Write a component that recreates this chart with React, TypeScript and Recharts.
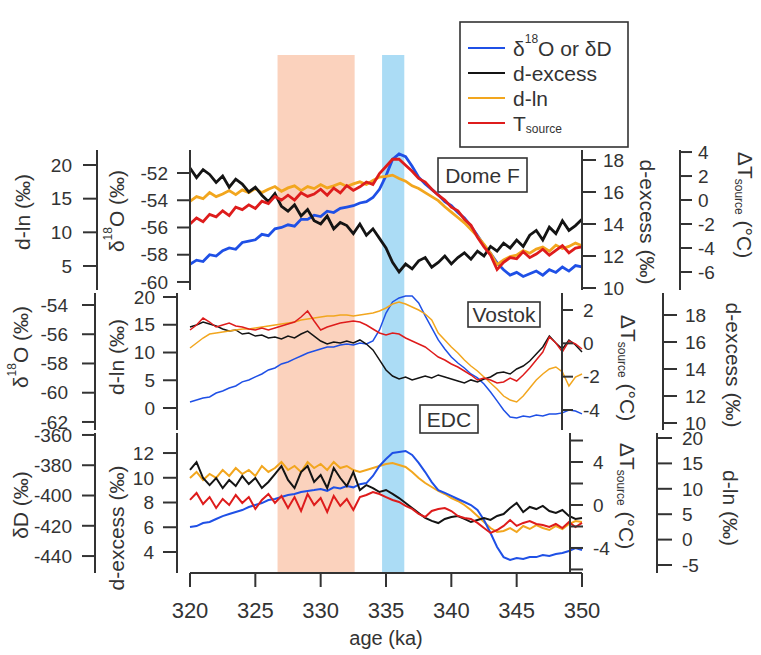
import React from "react";
import {
  ComposedChart,
  Line,
  XAxis,
  YAxis,
  ReferenceArea,
  Legend,
  Customized,
} from "recharts";

const W = 761;
const H = 655;
const FONT = '"Liberation Sans", Arial, Helvetica, sans-serif';
const INK = "#333333";

const C_ISO = "#1f50e6";
const C_DXS = "#141414";
const C_DLN = "#f2a61e";
const C_TSRC = "#de1c1c";

// age (ka), shared by all three cores
const AGE = [
  320, 320.5, 321, 321.5, 322, 322.5, 323, 323.5, 324, 324.5,
  325, 325.5, 326, 326.5, 327, 327.5, 328, 328.5, 329, 329.5,
  330, 330.5, 331, 331.5, 332, 332.5, 333, 333.5, 334, 334.5,
  335, 335.5, 336, 336.5, 337, 337.5, 338, 338.5, 339, 339.5,
  340, 340.5, 341, 341.5, 342, 342.5, 343, 343.5, 344, 344.5,
  345, 345.5, 346, 346.5, 347, 347.5, 348, 348.5, 349, 349.5, 350,
];
const AGE_TICKS = [320, 325, 330, 335, 340, 345, 350];

// shaded intervals (ka)
const PINK_BAND = [326.7, 332.6];
const BLUE_BAND = [334.7, 336.4];

// Dome F
const DF_D18O = [
  -58.7, -58.4, -58.5, -58.0, -58.1, -57.7, -57.5, -57.6, -57.1, -57.0,
  -56.9, -56.5, -56.6, -56.1, -56.0, -55.8, -55.9, -55.4, -55.4, -55.1,
  -55.2, -54.8, -54.9, -54.6, -54.5, -54.4, -54.2, -54.1, -53.8, -53.2,
  -52.2, -51.0, -50.6, -50.8, -51.5, -52.3, -52.8, -53.2, -53.6, -54.1,
  -54.4, -54.9, -55.3, -55.9, -56.6, -57.3, -57.9, -58.6, -59.1, -59.5,
  -59.3, -59.6, -59.4, -59.2, -59.5, -59.1, -59.3, -58.9, -59.2, -58.8, -58.9,
];
const DF_DXS = [
  17.5, 16.9, 17.4, 17.1, 16.6, 17.0, 16.3, 16.8, 16.5, 16.0,
  16.3, 15.8, 15.4, 15.9, 15.1, 14.8, 15.2, 14.5, 14.9, 14.2,
  14.0, 14.5, 13.7, 14.1, 13.9, 13.4, 14.0, 13.3, 13.7, 13.1,
  12.5, 11.6, 11.0, 11.5, 11.2, 11.7, 11.9, 11.3, 11.6, 12.0,
  11.5, 11.9, 12.2, 11.8, 12.3, 12.0, 12.6, 12.3, 12.8, 12.5,
  13.0, 12.6, 13.3, 13.6, 13.0, 13.8, 13.4, 14.2, 13.6, 13.9, 14.3,
];
const DF_DLN = [
  14.6, 15.3, 15.0, 15.9, 15.3, 15.7, 16.2, 15.6, 16.3, 15.9,
  16.5, 15.9, 16.4, 16.8, 16.1, 16.6, 16.9, 16.2, 16.8, 16.5,
  17.1, 16.6, 16.9, 17.3, 16.8, 17.2, 17.5, 17.1, 17.7, 18.2,
  18.3, 18.5, 18.0, 17.6, 16.9, 16.5, 15.9, 15.3, 14.7, 13.8,
  13.0, 12.2, 11.4, 10.4, 9.4, 8.2, 6.9, 5.2, 5.9, 6.4,
  6.6, 7.3, 6.9, 7.5, 7.8, 7.2, 8.1, 7.6, 7.9, 8.4, 8.0,
];
const DF_TSRC = [
  -2.0, -1.5, -1.8, -1.2, -1.4, -0.9, -1.3, -0.6, -0.8, -0.4,
  -0.7, -0.1, -0.3, 0.3, 0.0, 0.4, 0.0, 0.6, 0.3, 0.5,
  0.9, 0.4, 1.0, 0.6, 1.2, 0.8, 1.1, 1.5, 1.3, 2.2,
  2.8, 3.4, 3.4, 2.9, 2.4, 1.8, 1.5, 0.9, 0.4, 0.0,
  -0.6, -0.9, -1.6, -2.1, -3.1, -3.9, -4.6, -5.8, -5.2, -4.8,
  -4.9, -4.3, -4.8, -4.5, -4.1, -4.6, -4.2, -3.8, -4.4, -4.0, -3.9,
];

// Vostok
const VK_D18O = [
  -60.63, -60.5, -60.36, -60.29, -60.02, -59.88, -59.68, -59.54, -59.26, -59.13,
  -58.92, -58.72, -58.44, -58.31, -58.03, -57.9, -57.69, -57.49, -57.28, -57.15,
  -57.01, -56.87, -56.87, -56.74, -56.67, -56.74, -56.6, -56.67, -56.46, -55.71,
  -54.55, -53.79, -53.52, -53.38, -53.38, -53.86, -54.75, -55.57, -56.39, -57.01,
  -57.56, -57.97, -58.31, -58.72, -58.99, -59.4, -59.95, -60.56, -61.18, -61.66,
  -61.73, -61.59, -61.66, -61.52, -61.59, -61.45, -61.45, -61.38, -61.18, -61.25, -61.45,
];
const VK_DXS = [
  17.11, 17.26, 17.48, 17.33, 17.19, 16.96, 16.81, 16.89, 16.59, 16.67,
  16.44, 16.52, 16.3, 16.37, 16.22, 16.44, 16.3, 16.59, 16.81, 16.44,
  16.07, 15.85, 16.0, 15.93, 16.07, 15.93, 16.15, 15.85, 15.41, 14.67,
  13.93, 13.48, 13.26, 13.41, 13.19, 13.33, 13.48, 13.33, 13.56, 13.41,
  13.26, 13.11, 12.96, 13.19, 13.04, 13.26, 13.41, 13.7, 13.78, 13.63,
  14.0, 14.22, 14.59, 15.11, 15.63, 16.44, 15.93, 15.48, 16.15, 15.78, 15.26,
];
const VK_DLN = [
  10.81, 11.71, 12.61, 13.33, 13.51, 13.69, 13.87, 14.05, 14.23, 14.23,
  14.41, 14.59, 14.77, 14.95, 15.14, 15.32, 15.5, 15.86, 16.04, 16.22,
  16.4, 16.58, 16.58, 16.76, 16.76, 16.58, 16.76, 16.94, 17.12, 17.48,
  18.02, 18.74, 19.1, 18.74, 18.2, 17.66, 16.94, 15.86, 13.51, 12.25,
  10.99, 9.91, 8.65, 7.57, 6.67, 5.59, 4.5, 3.42, 2.16, 1.44,
  1.08, 2.16, 3.6, 5.05, 6.13, 7.03, 7.39, 6.49, 3.96, 5.59, 6.13,
];
const VK_TSRC = [
  0.8, 1.1, 1.52, 1.28, 0.98, 1.1, 1.22, 1.04, 0.98, 0.86,
  0.8, 0.92, 0.8, 0.92, 1.04, 1.16, 1.28, 1.58, 1.94, 1.34,
  0.8, 0.98, 1.1, 1.22, 1.28, 1.34, 1.28, 1.1, 0.86, 0.62,
  0.5, 0.62, 0.56, 0.32, 0.14, -0.04, -0.22, -0.52, -0.82, -1.0,
  -1.24, -1.42, -1.66, -1.9, -2.2, -2.08, -2.2, -2.38, -2.32, -2.08,
  -2.26, -1.9, -1.48, -1.0, -0.52, 0.38, 0.02, -0.52, 0.14, -0.04, -0.34,
];

// EDC
const EDC_DD = [
  -420.8, -420.2, -418.2, -417.5, -415.5, -413.6, -412.2, -410.9, -409.6, -407.6,
  -406.3, -405.0, -403.0, -402.3, -401.0, -399.7, -399.0, -397.7, -397.0, -396.4,
  -395.7, -396.9, -394.6, -395.3, -393.8, -394.6, -392.5, -391.8, -387.1, -380.5,
  -375.9, -371.9, -371.2, -370.6, -373.2, -378.5, -384.5, -391.1, -396.4, -398.3,
  -400.3, -402.3, -404.3, -406.3, -409.6, -416.2, -424.8, -434.0, -440.7, -442.6,
  -441.3, -442.0, -440.7, -440.7, -439.3, -440.0, -438.7, -438.0, -436.7, -434.7, -436.0,
];
const EDC_DXS = [
  10.63, 11.27, 9.98, 9.41, 9.98, 9.17, 9.82, 9.33, 10.14, 9.49,
  9.98, 9.17, 9.66, 10.3, 10.95, 9.82, 9.17, 10.46, 10.95, 9.66,
  10.22, 9.17, 10.79, 9.98, 9.33, 10.46, 9.01, 9.41, 9.17, 8.85,
  9.01, 8.69, 8.36, 7.96, 7.56, 7.15, 6.75, 6.51, 6.34, 6.67,
  6.83, 6.91, 6.67, 6.42, 6.59, 6.75, 6.59, 6.91, 7.07, 7.56,
  7.96, 7.23, 7.64, 7.47, 7.72, 7.31, 7.15, 7.39, 6.91, 6.67, 6.75,
];
const EDC_DLN = [
  12.13, 13.31, 11.73, 12.91, 12.13, 13.7, 12.52, 14.09, 12.91, 13.7,
  12.52, 14.49, 13.31, 14.09, 15.28, 13.7, 14.49, 13.31, 15.28, 14.09,
  14.88, 13.7, 15.28, 14.09, 14.49, 13.7, 13.31, 13.7, 14.09, 14.49,
  14.88, 15.08, 14.69, 14.29, 13.31, 12.13, 11.14, 10.35, 9.57, 8.98,
  8.19, 7.6, 6.81, 5.83, 4.65, 3.46, 2.28, 1.5, 1.69, 2.28,
  1.5, 2.68, 2.09, 2.87, 2.28, 1.89, 2.68, 2.09, 3.07, 3.66, 3.46,
];
const EDC_TSRC = [
  0.47, 1.12, 0.09, 0.74, -0.28, 0.56, 0.0, 0.93, 0.19, 0.74,
  -0.37, 0.47, 1.02, 0.19, 0.84, -0.28, 0.74, -0.56, 1.02, 0.0,
  0.65, -0.65, 0.84, -0.09, 0.56, -0.47, 0.74, 0.93, 1.21, 1.02,
  0.74, 0.47, 0.28, -0.09, -0.37, -0.84, -1.12, -0.56, -0.37, -0.28,
  -0.56, -1.02, -1.21, -1.3, -1.67, -2.14, -2.6, -2.33, -1.95, -1.4,
  -1.95, -1.67, -1.49, -1.77, -1.86, -2.05, -1.77, -2.14, -1.58, -2.05, -1.67,
];

// tick values per axis
const DF_D18O_TICKS = [-60, -58, -56, -54, -52];
const DF_DLN_TICKS = [5, 10, 15, 20];
const DF_DXS_TICKS = [10, 12, 14, 16, 18];
const DF_TSRC_TICKS = [-6, -4, -2, 0, 2, 4];
const VK_D18O_TICKS = [-62, -60, -58, -56, -54];
const VK_DLN_TICKS = [0, 5, 10, 15, 20];
const VK_TSRC_TICKS = [-4, -2, 0, 2];
const VK_DXS_TICKS = [10, 12, 14, 16, 18];
const EDC_DD_TICKS = [-440, -420, -400, -380, -360];
const EDC_DXS_TICKS = [4, 6, 8, 10, 12];
const EDC_TSRC_TICKS = [-6, -4, -2, 0, 2, 4, 6];
const EDC_DLN_TICKS = [-5, 0, 5, 10, 15, 20];

type Row = { age: number; iso: number; dxs: number; dln: number; tsrc: number };

const toRows = (iso: number[], dxs: number[], dln: number[], tsrc: number[]): Row[] =>
  AGE.map((age, i) => ({ age, iso: iso[i], dxs: dxs[i], dln: dln[i], tsrc: tsrc[i] }));

const domeF = toRows(DF_D18O, DF_DXS, DF_DLN, DF_TSRC);
const vostok = toRows(VK_D18O, VK_DXS, VK_DLN, VK_TSRC);
const edc = toRows(EDC_DD, EDC_DXS, EDC_DLN, EDC_TSRC);
const ageRows = AGE.map((age) => ({ age }));

// axis ids: recharts stacks same-side axes by id, so L1/R1 sit next to the plot and L2/R2 outside them
const axisStyle = (tickSize: number, tickMargin: number) => ({
  type: "number" as const,
  stroke: INK,
  axisLine: { strokeWidth: 2 },
  tickLine: { strokeWidth: 2 },
  tick: { fontSize: 19, fill: INK, fontFamily: FONT },
  tickSize,
  tickMargin,
  interval: 0 as const,
});

const layer: React.CSSProperties = { position: "absolute", left: 0, top: 0 };

function VLabel({ x, y, angle, children }: { x: number; y: number; angle: number; children: React.ReactNode }) {
  return (
    <text
      x={x}
      y={y}
      transform={`rotate(${angle} ${x} ${y})`}
      textAnchor="middle"
      dominantBaseline="central"
      fontSize={21}
      fontFamily={FONT}
      fill={INK}
    >
      {children}
    </text>
  );
}

const D18O = (
  <>
    δ<tspan fontSize={12} dy={-8}>18</tspan>
    <tspan dy={8}>O (‰)</tspan>
  </>
);
const TSOURCE = (
  <>
    ΔT<tspan fontSize={12} dy={6}>source</tspan>
    <tspan dy={-6}> (°C)</tspan>
  </>
);

function Tag({ x, y, w, h, label }: { x: number; y: number; w: number; h: number; label: string }) {
  return (
    <g>
      <rect x={x} y={y} width={w} height={h} fill="none" stroke={INK} strokeWidth={1.6} />
      <text
        x={x + w / 2}
        y={y + h / 2}
        textAnchor="middle"
        dominantBaseline="central"
        fontSize={21}
        fontFamily={FONT}
        fill={INK}
      >
        {label}
      </text>
    </g>
  );
}

const LEGEND_ORDER = ["iso", "dxs", "dln", "tsrc"];

function legendText(key: string) {
  if (key === "iso")
    return (
      <>
        δ<tspan fontSize={12} dy={-9}>18</tspan>
        <tspan dy={9}>O or δD</tspan>
      </>
    );
  if (key === "dxs") return "d-excess";
  if (key === "dln") return "d-ln";
  return (
    <>
      T<tspan fontSize={12} dy={6}>source</tspan>
    </>
  );
}

function LegendBox(props: any) {
  const items = [...(props.payload ?? [])].sort(
    (a: any, b: any) => LEGEND_ORDER.indexOf(a.dataKey) - LEGEND_ORDER.indexOf(b.dataKey)
  );
  return (
    <svg width={171} height={128} style={{ display: "block" }}>
      <rect x={1} y={1} width={168} height={125} fill="#fff" stroke={INK} strokeWidth={1.6} />
      {items.map((it: any, i: number) => {
        const y = 27 + i * 25;
        return (
          <g key={it.dataKey}>
            <line x1={9} x2={46} y1={y} y2={y} stroke={it.color} strokeWidth={2} />
            <text x={54} y={y} dominantBaseline="central" fontSize={21} fontFamily={FONT} fill={INK}>
              {legendText(it.dataKey)}
            </text>
          </g>
        );
      })}
    </svg>
  );
}

const DomeFNotes = () => (
  <g>
    <VLabel x={22} y={212} angle={-90}>d-ln (‰)</VLabel>
    <VLabel x={116} y={211} angle={-90}>{D18O}</VLabel>
    <VLabel x={647} y={222} angle={90}>d-excess (‰)</VLabel>
    <VLabel x={745} y={205} angle={90}>{TSOURCE}</VLabel>
    <Tag x={438} y={158} w={89} h={34} label="Dome F" />
  </g>
);

const VostokNotes = () => (
  <g>
    <VLabel x={20} y={347} angle={-90}>{D18O}</VLabel>
    <VLabel x={116} y={357} angle={-90}>d-ln (‰)</VLabel>
    <VLabel x={628} y={368} angle={90}>{TSOURCE}</VLabel>
    <VLabel x={733} y={365} angle={90}>d-excess (‰)</VLabel>
    <Tag x={468} y={302} w={72} h={25} label="Vostok" />
  </g>
);

const EdcNotes = () => (
  <g>
    <VLabel x={20} y={505} angle={-90}>δD (‰)</VLabel>
    <VLabel x={116} y={528} angle={-90}>d-excess (‰)</VLabel>
    <VLabel x={627} y={496} angle={90}>{TSOURCE}</VLabel>
    <VLabel x={730} y={508} angle={90}>d-ln (‰)</VLabel>
    <Tag x={420} y={405} w={58} h={28} label="EDC" />
  </g>
);

// EDC source-temperature axis: ticks every 2 °C, labels every 4 °C
const everyFourth = (props: any) => {
  const { x, y, payload } = props;
  if (payload.value % 4 !== 0) return <g />;
  return (
    <text x={x} y={y} dy="0.355em" textAnchor="start" fontSize={19} fontFamily={FONT} fill={INK}>
      {payload.value}
    </text>
  );
};

export default function App() {
  return (
    <div style={{ position: "absolute", left: 0, top: 0, width: W, height: H, background: "#fff", overflow: "hidden" }}>
      {/* shared age axis and shaded intervals */}
      <div style={layer}>
        <ComposedChart width={W} height={H} data={ageRows} margin={{ top: 55, right: 179, bottom: 10, left: 190 }}>
          <XAxis
            dataKey="age"
            type="number"
            domain={[320, 350]}
            allowDataOverflow
            ticks={AGE_TICKS}
            interval={0}
            height={72}
            stroke={INK}
            axisLine={{ strokeWidth: 2 }}
            tickLine={{ strokeWidth: 2 }}
            tickSize={14}
            tickMargin={15}
            tick={{ fontSize: 22, fill: INK, fontFamily: FONT }}
            label={{ value: "age (ka)", position: "insideBottom", offset: 0, fontSize: 20, fill: INK, fontFamily: FONT }}
          />
          <YAxis hide domain={[0, 1]} allowDataOverflow />
          <ReferenceArea x1={PINK_BAND[0]} x2={PINK_BAND[1]} fill="#fbd2bd" fillOpacity={1} stroke="none" ifOverflow="visible" />
          <ReferenceArea x1={BLUE_BAND[0]} x2={BLUE_BAND[1]} fill="#abdcf5" fillOpacity={1} stroke="none" ifOverflow="visible" />
        </ComposedChart>
      </div>

      {/* Dome F */}
      <div style={layer}>
        <ComposedChart width={W} height={H} data={domeF} margin={{ top: 150, right: 1, bottom: 365, left: 0 }}>
          <XAxis dataKey="age" type="number" domain={[320, 350]} hide />
          <YAxis yAxisId="L1" orientation="left" width={93} domain={[-60.59, -50.31]} ticks={DF_D18O_TICKS} {...axisStyle(13, 9)} />
          <YAxis yAxisId="L2" orientation="left" width={97} domain={[1.43, 22.23]} ticks={DF_DLN_TICKS} {...axisStyle(14, 11)} />
          <YAxis yAxisId="R1" orientation="right" width={98} domain={[9.875, 18.625]} ticks={DF_DXS_TICKS} {...axisStyle(14, 7)} />
          <YAxis yAxisId="R2" orientation="right" width={80} domain={[-7.5, 4.17]} ticks={DF_TSRC_TICKS} {...axisStyle(12, 6)} />
          <Line yAxisId="L1" dataKey="iso" name="δ18O or δD" stroke={C_ISO} strokeWidth={2.8} dot={false} isAnimationActive={false} />
          <Line yAxisId="L2" dataKey="dln" name="d-ln" stroke={C_DLN} strokeWidth={2.8} dot={false} isAnimationActive={false} />
          <Line yAxisId="R1" dataKey="dxs" name="d-excess" stroke={C_DXS} strokeWidth={2.8} dot={false} isAnimationActive={false} />
          <Line yAxisId="R2" dataKey="tsrc" name="Tsource" stroke={C_TSRC} strokeWidth={2.8} dot={false} isAnimationActive={false} />
          <Legend
            layout="vertical"
            align="center"
            verticalAlign="middle"
            content={LegendBox}
            wrapperStyle={{ left: 459, top: 21, width: 171, height: 128 }}
          />
          <Customized component={DomeFNotes} />
        </ComposedChart>
      </div>

      {/* Vostok */}
      <div style={layer}>
        <ComposedChart width={W} height={H} data={vostok} margin={{ top: 293, right: 1, bottom: 225, left: 0 }}>
          <XAxis dataKey="age" type="number" domain={[320, 350]} hide padding={{ left: 13, right: -20 }} />
          <YAxis yAxisId="L1" orientation="left" width={82} domain={[-3.96, 20.72]} ticks={VK_DLN_TICKS} {...axisStyle(14, 8)} />
          <YAxis yAxisId="L2" orientation="left" width={95} domain={[-62.55, -53.18]} ticks={VK_D18O_TICKS} {...axisStyle(13, 14)} />
          <YAxis yAxisId="R1" orientation="right" width={101} domain={[-5.2, 3.02]} ticks={VK_TSRC_TICKS} {...axisStyle(11, 10)} />
          <YAxis yAxisId="R2" orientation="right" width={97} domain={[9.48, 19.63]} ticks={VK_DXS_TICKS} {...axisStyle(14, 8)} />
          <Line yAxisId="L2" dataKey="iso" stroke={C_ISO} strokeWidth={1.5} dot={false} isAnimationActive={false} />
          <Line yAxisId="R2" dataKey="dxs" stroke={C_DXS} strokeWidth={1.5} dot={false} isAnimationActive={false} />
          <Line yAxisId="L1" dataKey="dln" stroke={C_DLN} strokeWidth={1.5} dot={false} isAnimationActive={false} />
          <Line yAxisId="R1" dataKey="tsrc" stroke={C_TSRC} strokeWidth={1.5} dot={false} isAnimationActive={false} />
          <Customized component={VostokNotes} />
        </ComposedChart>
      </div>

      {/* EDC */}
      <div style={layer}>
        <ComposedChart width={W} height={H} data={edc} margin={{ top: 433, right: 1, bottom: 82, left: 0 }}>
          <XAxis dataKey="age" type="number" domain={[320, 350]} hide padding={{ left: 13, right: -12 }} />
          <YAxis yAxisId="L1" orientation="left" width={82} domain={[2.3, 13.62]} ticks={EDC_DXS_TICKS} {...axisStyle(14, 9)} />
          <YAxis yAxisId="L2" orientation="left" width={95} domain={[-451.2, -358.7]} ticks={EDC_DD_TICKS} {...axisStyle(13, 10)} />
          <YAxis
            yAxisId="R1"
            orientation="right"
            width={87}
            domain={[-6.33, 6.7]}
            ticks={EDC_TSRC_TICKS}
            {...axisStyle(13, 10)}
            tick={everyFourth}
          />
          <YAxis yAxisId="R2" orientation="right" width={103} domain={[-6.57, 20.98]} ticks={EDC_DLN_TICKS} {...axisStyle(15, 10)} />
          <Line yAxisId="R2" dataKey="dln" stroke={C_DLN} strokeWidth={2} dot={false} isAnimationActive={false} />
          <Line yAxisId="L2" dataKey="iso" stroke={C_ISO} strokeWidth={2} dot={false} isAnimationActive={false} />
          <Line yAxisId="L1" dataKey="dxs" stroke={C_DXS} strokeWidth={2} dot={false} isAnimationActive={false} />
          <Line yAxisId="R1" dataKey="tsrc" stroke={C_TSRC} strokeWidth={2} dot={false} isAnimationActive={false} />
          <Customized component={EdcNotes} />
        </ComposedChart>
      </div>
    </div>
  );
}
